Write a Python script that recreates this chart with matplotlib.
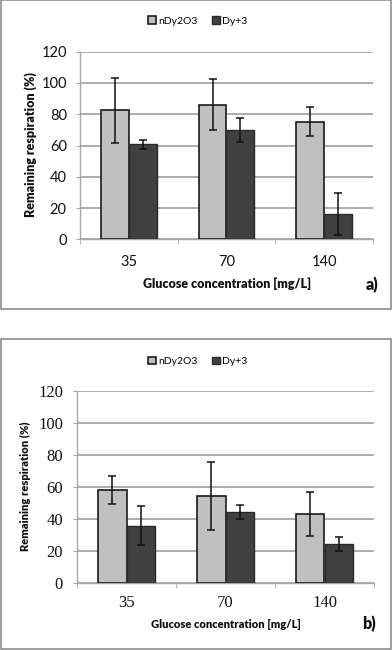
import matplotlib
matplotlib.use('Agg')
import matplotlib.pyplot as plt
from matplotlib.patches import Rectangle
import numpy as np

# data
categories = ['35', '70', '140']
series_names = ['nDy2O3', 'Dy+3']

a_nano = [82.4, 86.2, 75.3]
a_nano_err = [20.7, 16.3, 9.5]
a_ion = [60.7, 70.0, 16.0]
a_ion_err = [2.9, 7.5, 13.3]

b_nano = [57.9, 54.2, 42.9]
b_nano_err = [9.0, 21.3, 13.7]
b_ion = [35.7, 44.4, 24.2]
b_ion_err = [12.0, 4.4, 4.2]

yticks = [0, 20, 40, 60, 80, 100, 120]

light = '#c0c0c0'
dark = '#404040'
grid_col = '#a6a6a6'
sans = ['Lato', 'DejaVu Sans']
serif = ['Liberation Serif', 'DejaVu Serif']
label_weight = 'heavy'

W, H = 392, 650
fig = plt.figure(figsize=(W/100, H/100), dpi=100)


def px(x, y):
    # pixel coords (from top-left) -> figure fraction
    return x/W, 1 - y/H


def draw_panel(rect, nano, nano_err, ion, ion_err, tick_font, tick_size, tick_pad):
    ax = fig.add_axes(rect)
    x = np.arange(len(categories))
    w = 0.285
    ax.bar(x - w/2, nano, w, color=light, edgecolor='#1a1a1a', linewidth=1.2, zorder=3,
           label=series_names[0])
    ax.bar(x + w/2, ion, w, color=dark, edgecolor='#2a2a2a', linewidth=1.0, zorder=3,
           label=series_names[1])
    ax.errorbar(x - w/2, nano, yerr=nano_err, fmt='none', ecolor='#111111', elinewidth=1.1,
                capsize=3, capthick=1.1, zorder=4)
    ax.errorbar(x + w/2, ion, yerr=ion_err, fmt='none', ecolor='#111111', elinewidth=1.1,
                capsize=3, capthick=1.1, zorder=4)

    ax.set_xlim(-0.5, len(categories) - 0.5)
    ax.set_ylim(0, 120)
    ax.set_yticks(yticks)
    ax.set_xticks(x)
    ax.set_xticklabels(categories)
    ax.set_xticks(np.arange(len(categories) + 1) - 0.5, minor=True)
    ax.tick_params(axis='x', which='major', length=0, pad=tick_pad[0])
    ax.tick_params(axis='x', which='minor', length=3.5, color=grid_col, direction='out')
    ax.tick_params(axis='y', length=3, color=grid_col, pad=tick_pad[1])
    for lab in ax.get_xticklabels() + ax.get_yticklabels():
        lab.set_family(tick_font)
        lab.set_fontsize(tick_size)
        lab.set_color('#111111')

    ax.grid(axis='y', color=grid_col, linewidth=1.3, zorder=0)
    ax.set_axisbelow(True)
    for s in ['top', 'right']:
        ax.spines[s].set_visible(False)
    for s in ['left', 'bottom']:
        ax.spines[s].set_color(grid_col)
        ax.spines[s].set_linewidth(1.0)
    return ax


# panel a
left, bottom = px(80, 239.3)
ax1 = draw_panel([left, bottom, 293/W, 187.6/H], a_nano, a_nano_err, a_ion, a_ion_err,
                 sans, 10.5, (11, 6.5))
# panel b
left, bottom = px(77, 582.7)
ax2 = draw_panel([left, bottom, 297/W, 192/H], b_nano, b_nano_err, b_ion, b_ion_err,
                 serif, 12, (9, 7))

# legends
for ax, ly in [(ax1, 21), (ax2, 361.7)]:
    lx, lyf = px(198, ly)
    ax.legend(loc='center', bbox_to_anchor=(lx, lyf), bbox_transform=fig.transFigure, ncol=2,
              frameon=False, prop={'family': sans, 'size': 7.5}, handlelength=0.7,
              handleheight=0.7, handletextpad=0.25, columnspacing=1.4, borderaxespad=0)

# axis labels and panel letters
fig.text(*px(227, 284), 'Glucose concentration [mg/L]', ha='center', va='center',
         fontsize=9, fontweight=label_weight, family=sans, color='#111111')
fig.text(*px(30.5, 145), 'Remaining respiration (%)', ha='center', va='center',
         rotation=90, fontsize=9, fontweight=label_weight, family=sans, color='#111111')
fig.text(*px(372, 284.5), 'a)', ha='center', va='center', fontsize=11.5,
         fontweight=label_weight, family=sans, color='#111111')

fig.text(*px(225.5, 624), 'Glucose concentration [mg/L]', ha='center', va='center',
         fontsize=8, fontweight=label_weight, family=sans, color='#111111')
fig.text(*px(25, 486), 'Remaining respiration (%)', ha='center', va='center',
         rotation=90, fontsize=8, fontweight=label_weight, family=sans, color='#111111')
fig.text(*px(369, 624), 'b)', ha='center', va='center', fontsize=11.5,
         fontweight=label_weight, family=sans, color='#111111')

# panel frames
for y0, y1 in [(0.5, 309.3), (339.3, 648.5)]:
    x0f, y1f = px(1, y1)
    fig.patches.append(Rectangle((x0f, y1f), 390/W, (y1 - y0)/H, transform=fig.transFigure,
                                 fill=False, edgecolor='#8c8c8c', linewidth=1.2))

fig.savefig('out.png', dpi=100, facecolor='white')
